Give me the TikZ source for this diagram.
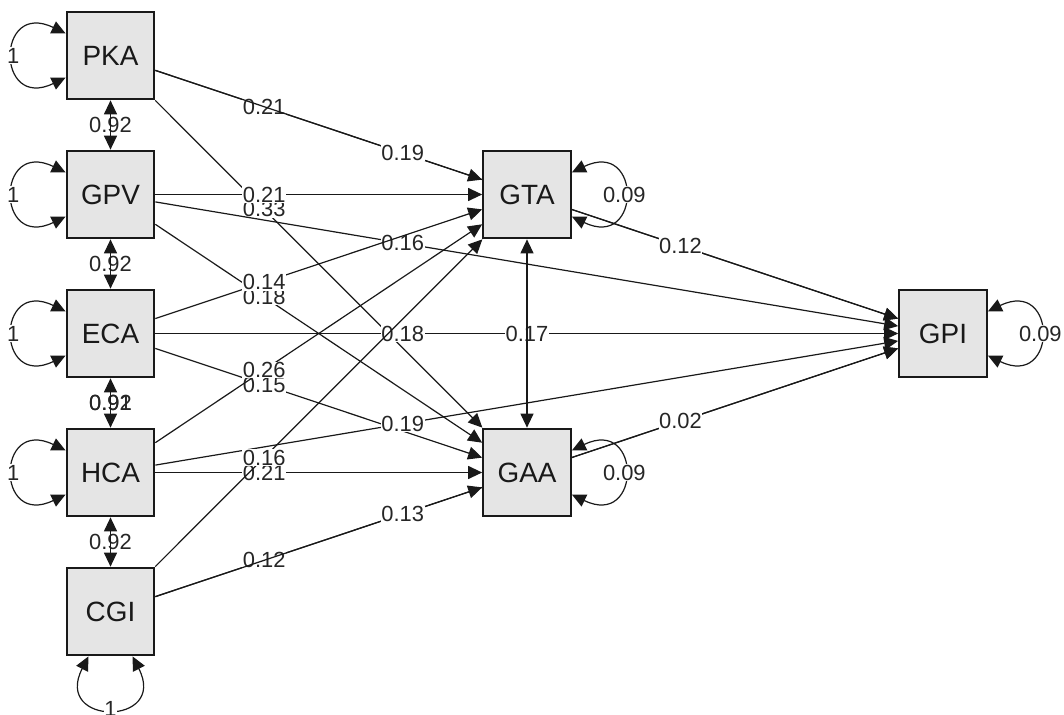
\documentclass[tikz,border=0pt]{standalone}
\usepackage{fontspec}
\setmainfont{Liberation Sans}
\usetikzlibrary{arrows.meta,calc}
\pgfdeclarelayer{background}
\pgfsetlayers{background,main}

\begin{document}
\begin{tikzpicture}[x=1bp,y=-1bp,
  var/.style={draw=black!90, line width=2.2bp, fill=black!10,
    minimum width=87.5bp, minimum height=87.5bp, inner sep=0pt,
    font=\fontsize{28}{30}\selectfont, text=black!90},
  reg/.style={line width=1.2bp, draw=black!90,
    -{Triangle[length=14bp,width=13bp]}},
  cov/.style={line width=1.2bp, draw=black!90,
    {Triangle[length=14bp,width=13bp]}-{Triangle[length=14bp,width=13bp]}},
  lab/.style={fill=white, inner sep=0.6bp,
    font=\fontsize{22}{24}\selectfont, text=black!85},
]
\useasboundingbox (0,0) rectangle (1064,715);

% observed variables
\node[var] (PKA) at (110.5,55.5)  {PKA};
\node[var] (GPV) at (110.5,194.5) {GPV};
\node[var] (ECA) at (110.5,333.5) {ECA};
\node[var] (HCA) at (110.5,472.5) {HCA};
\node[var] (CGI) at (110.5,611.5) {CGI};
\node[var] (GTA) at (527,194.5)   {GTA};
\node[var] (GAA) at (527,472.5)   {GAA};
\node[var] (GPI) at (943,333.5)   {GPI};

\begin{pgfonlayer}{background}
% regression paths, coefficient at one third of each path
\foreach \s/\t/\v in {
    PKA/GTA/0.21, PKA/GAA/0.33, PKA/GPI/0.19,
    GPV/GTA/0.21, GPV/GAA/0.18, GPV/GPI/0.16,
    ECA/GTA/0.14, ECA/GAA/0.15, ECA/GPI/0.18,
    HCA/GTA/0.26, HCA/GAA/0.21, HCA/GPI/0.19,
    CGI/GTA/0.16, CGI/GAA/0.12, CGI/GPI/0.13,
    GTA/GPI/0.12, GAA/GPI/0.02}
  \draw[reg] (\s) -- (\t) node[lab,pos=0.333] {\v};

% covariances
\path (PKA) -- (GPV) node[lab,pos=0.5] {0.92};
\draw[cov] (PKA) -- (GPV);
\path (GPV) -- (ECA) node[lab,pos=0.5] {0.92};
\draw[cov] (GPV) -- (ECA);
\path (ECA) -- (HCA) node[lab,pos=0.5] {0.91} node[lab,fill=none,pos=0.5] {0.92};
\draw[cov] (ECA) -- (HCA);
\path (HCA) -- (CGI) node[lab,pos=0.5] {0.92};
\draw[cov] (HCA) -- (CGI);
\path (GTA) -- (GAA) node[lab,pos=0.5] {0.17};
\draw[cov] (GTA) -- (GAA);

% variances, left side
\foreach \n in {PKA,GPV,ECA,HCA}
  \draw[cov] ($(\n.west)+(0,-22)$) .. controls +(-70,-34) and +(-70,34) ..
    ($(\n.west)+(0,22)$) node[lab,pos=0.5] {1};
% variance below CGI
\draw[cov] ($(CGI.south)+(-22,0)$) .. controls +(-36,70) and +(36,70) ..
  ($(CGI.south)+(22,0)$) node[lab,pos=0.5] {1};
% residual variances, right side
\foreach \n in {GTA,GAA,GPI}
  \draw[cov] ($(\n.east)+(0,-22)$) .. controls +(70,-34) and +(70,34) ..
    ($(\n.east)+(0,22)$) node[lab,pos=0.5] {0.09};
\end{pgfonlayer}
\end{tikzpicture}
\end{document}
